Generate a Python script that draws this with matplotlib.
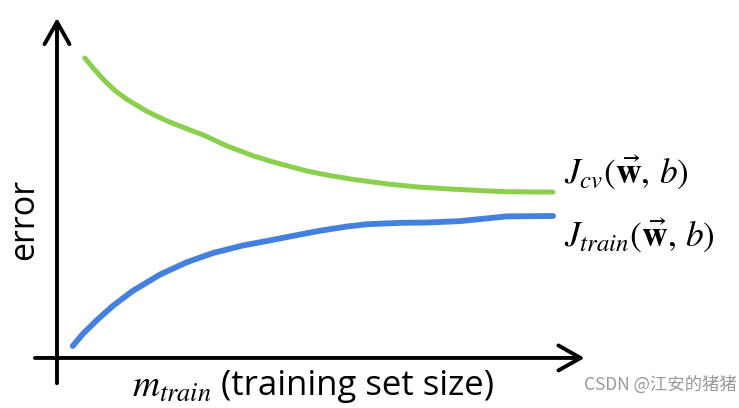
import matplotlib
matplotlib.use("Agg")
import matplotlib.pyplot as plt

plt.rcParams['mathtext.fontset'] = 'stix'

# learning curve values (m_train, error)
m_cv = [0.53, 0.68, 0.87, 1.10, 1.33, 1.71, 2.09, 2.47, 2.78, 3.23, 3.73, 4.18,
        4.77, 5.13, 5.63, 6.27, 6.84, 7.47, 8.10, 8.56, 9.43]
err_cv = [8.83, 8.55, 8.22, 7.88, 7.62, 7.27, 6.99, 6.76, 6.58, 6.26, 5.97, 5.76,
          5.52, 5.41, 5.28, 5.15, 5.06, 5.00, 4.95, 4.92, 4.91]

m_train = [0.30, 0.49, 0.76, 1.06, 1.44, 1.96, 2.47, 2.97, 3.54, 3.99, 4.49, 5.00,
           5.50, 5.89, 6.52, 7.03, 7.66, 8.17, 8.56, 9.43]
err_train = [0.41, 0.76, 1.17, 1.58, 2.02, 2.50, 2.86, 3.13, 3.35, 3.48, 3.63, 3.78,
             3.90, 3.97, 4.01, 4.02, 4.06, 4.14, 4.20, 4.21]

label_cv = r'$J_{cv}(\vec{\mathbf{w}},\,b)$'
label_train = r'$J_{train}(\vec{\mathbf{w}},\,b)$'

fig = plt.figure(figsize=(7.39, 4.08), dpi=100)
ax = fig.add_axes([57/739, 48/408, 526/739, 342/408])
ax.set_xlim(0, 10)
ax.set_ylim(0, 10)
ax.axis('off')

ax.plot(m_cv, err_cv, color='#8BCF4E', lw=3.6, solid_capstyle='round',
        solid_joinstyle='round')
ax.plot(m_train, err_train, color='#4480E0', lw=4.2, solid_capstyle='round',
        solid_joinstyle='round')

# hand-drawn style axes with open arrow heads
arrow = dict(arrowstyle='->, head_length=0.8, head_width=0.45', lw=2.8,
             color='black', mutation_scale=20, shrinkA=0, shrinkB=0)
ax.annotate('', xy=(0, 1), xytext=(0, -0.068), xycoords='axes fraction',
            arrowprops=arrow, annotation_clip=False)
ax.annotate('', xy=(1.003, 0.006), xytext=(-0.042, 0.006), xycoords='axes fraction',
            arrowprops=arrow, annotation_clip=False)

ax.text(-0.062, 0.41, 'error', transform=ax.transAxes, rotation=90,
        ha='center', va='center', fontsize=24.5, family='Open Sans')
ax.text(0.143, -0.078, r'$m_{train}$', transform=ax.transAxes,
        ha='left', va='center', fontsize=27)
ax.text(0.312, -0.075, '(training set size)', transform=ax.transAxes,
        ha='left', va='center', fontsize=25, family='Open Sans')

ax.text(m_cv[-1] + 0.2, err_cv[-1] + 0.55, label_cv, ha='left', va='center',
        fontsize=25.5)
ax.text(m_train[-1] + 0.2, err_train[-1] - 0.58, label_train, ha='left',
        va='center', fontsize=25.5)

fig.text(0.997, 0.058, 'CSDN @江安的猪猪', ha='right', va='center', fontsize=12.5,
         color='#999999', family=['Noto Sans CJK SC', 'DejaVu Sans'])

fig.savefig('out.png', dpi=100)
